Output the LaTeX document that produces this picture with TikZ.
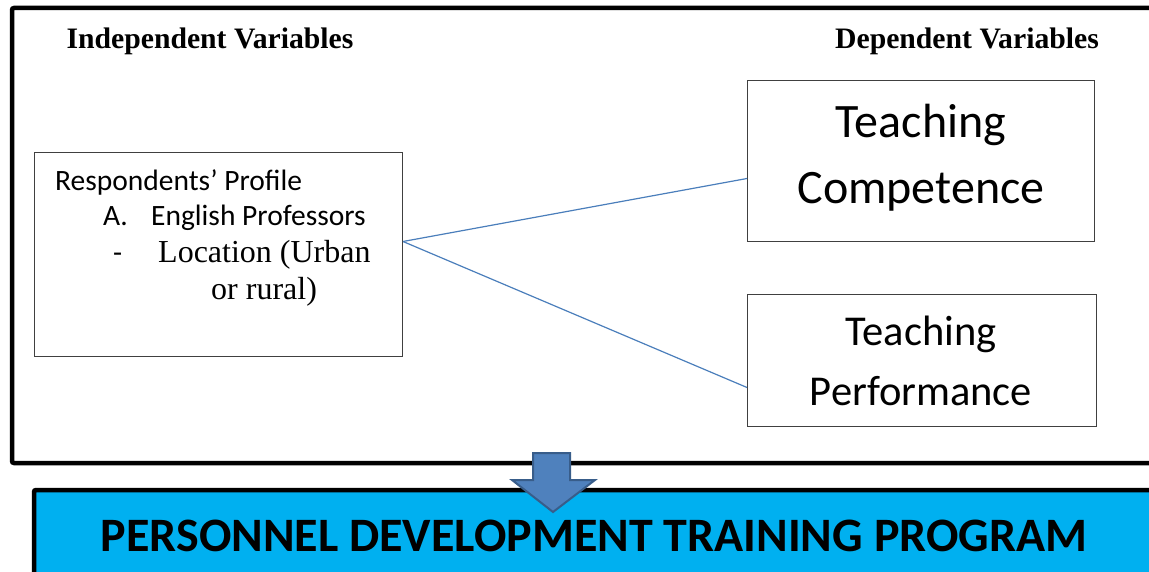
\documentclass[tikz,border=0pt]{standalone}
\usepackage{fontspec}
\setmainfont{Liberation Serif}
\newfontfamily\calibri{Carlito}
\usetikzlibrary{positioning, calc}
\definecolor{framecyan}{HTML}{00B0F0}
\definecolor{arrowfill}{HTML}{4F81BD}
\definecolor{arrowedge}{HTML}{385D8A}
\definecolor{linkblue}{HTML}{4A7EBB}
\definecolor{boxgray}{HTML}{404040}

\begin{document}
\begin{tikzpicture}[
  x=1pt, y=-1pt,
  varbox/.style={draw=boxgray, line width=1pt, anchor=north west, inner sep=0pt},
  heading/.style={font=\fontsize{29.7}{32}\selectfont\bfseries, anchor=base, inner sep=0pt},
  bigtext/.style={font=\calibri\fontsize{48}{52}\selectfont, anchor=base, inner sep=0pt},
  midtext/.style={font=\calibri\fontsize{42.5}{46}\selectfont, anchor=base, inner sep=0pt},
  smalltext/.style={font=\calibri\fontsize{29.5}{32}\selectfont, anchor=base west, inner sep=0pt},
  serftext/.style={font=\fontsize{32}{34}\selectfont, anchor=base west, inner sep=0pt},
  link/.style={draw=linkblue, line width=1.2pt}
]
\useasboundingbox (0,0) rectangle (1149,572);

% outer frame and program bar
\draw[line width=4.5pt, rounded corners=2pt] (12,8) rectangle (1170,463);
\draw[line width=4.5pt, fill=framecyan, rounded corners=2pt] (34,490) rectangle (1170,600);

% headings
\node[heading] (indep) at (210,49) {Independent Variables};
\node[heading] (dep) at (967,49) {Dependent Variables};

% variable boxes
\node[varbox, minimum width=368pt, minimum height=204pt] (profile) at (34,152) {};
\node[varbox, minimum width=347pt, minimum height=161pt] (competence) at (747,80) {};
\node[varbox, minimum width=349pt, minimum height=132pt] (performance) at (747,294) {};

% profile text
\node[smalltext] (resp) at (55,191) {Respondents’ Profile};
\node[smalltext] (itema) at (103,226) {A.};
\node[smalltext] (prof) at (151,226) {English Professors};
\node[smalltext] (dash) at (113,262) {-};
\node[serftext] (loc) at (158,262) {Location (Urban};
\node[serftext] (rural) at (211,299) {or rural)};

% dependent variables text
\node[bigtext] (teach1) at (921,138) {Teaching};
\node[bigtext] (comp) at (921,204) {Competence};
\node[midtext] (teach2) at (921,345) {Teaching};
\node[midtext] (perf) at (921,405) {Performance};

% links
\draw[link] ([yshift=13pt]profile.east) -- ([yshift=-17.5pt]competence.west);
\draw[link] ([yshift=13pt]profile.east) -- ([yshift=-27pt]performance.west);

% down arrow
\draw[fill=arrowfill, draw=arrowedge, line width=2pt, line join=miter]
  (533,453) -- (570,453) -- (570,480) -- (595,480) -- (553,512)
  -- (512,480) -- (533,480) -- cycle;

% program title
\node[font=\calibri\fontsize{48}{52}\selectfont\bfseries, anchor=base, inner sep=0pt] (program) at (594,551)
  {PERSONNEL DEVELOPMENT TRAINING PROGRAM};
\end{tikzpicture}
\end{document}
